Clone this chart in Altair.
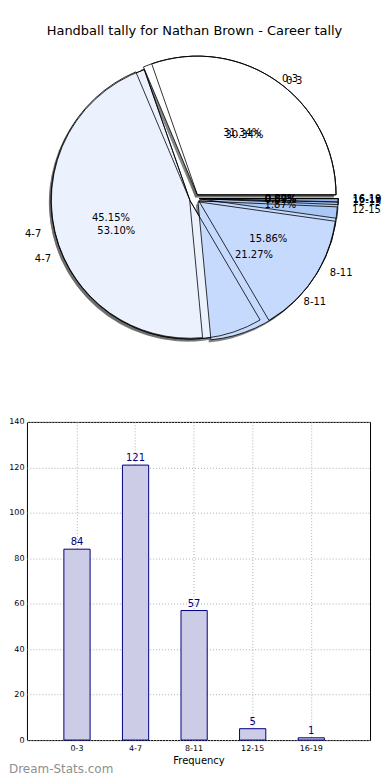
import math
import altair as alt
import pandas as pd

# ---------------- data ----------------
categories = ["0-3", "4-7", "8-11", "12-15", "16-19"]
career_counts = [84, 121, 57, 5, 1]
second_counts = [44, 77, 23, 1, 0]
slice_colors = ["#ffffff", "#ebf2fe", "#c6dafe", "#aac8f6", "#8fb3ea"]
title_text = "Handball tally for Nathan Brown - Career tally"
y_ticks = [0, 20, 40, 60, 80, 100, 120, 140]

# ---------------- layout ----------------
LEFT = 18                      # offset of view origin caused by y-axis labels
W1, H1 = 374 - LEFT, 400
CX, CY = 186 - LEFT, 190
RX, RY = 144, 131
R = 139
W2, H2 = 344, 319

xs = alt.Scale(domain=[-1, 1], range=[CX - RX, CX + RX])
ys = alt.Scale(domain=[-1, 1], range=[CY + RY, CY - RY])
ts = alt.Scale(domain=[0, 1], range=[2.5 * math.pi, 0.5 * math.pi])
cs = alt.Scale(domain=categories, range=slice_colors)


def pie_base(counts):
    df = pd.DataFrame({"cat": categories, "count": counts,
                       "idx": list(range(len(categories)))})
    return (
        alt.Chart(df)
        .transform_joinaggregate(total="sum(count)")
        .transform_window(cum="sum(count)", sort=[alt.SortField("idx")],
                          frame=[None, 0])
        .transform_calculate(f1="datum.cum / datum.total",
                             f0="(datum.cum - datum.count) / datum.total")
        .transform_calculate(phi="PI * (datum.f0 + datum.f1)")
        .transform_calculate(
            ux="cos(datum.phi)", uy="sin(datum.phi)",
            pct="format(datum.count / datum.total * 100, '.2f') + '%'")
        .transform_calculate(
            ex="0.035 * datum.ux", ey="0.035 * datum.uy",
            sx="0.035 * datum.ux - 0.015", sy="0.035 * datum.uy - 0.02",
            lx="1.1 * datum.ux", ly="1.1 * datum.uy",
            px="0.6 * datum.ux", py="0.6 * datum.uy")
    )


def arcs(base, kind):
    if kind == "shadow":
        return base.mark_arc(radius=R, fill="#666666", opacity=0.8).encode(
            theta=alt.Theta("f0:Q", scale=ts), theta2="f1:Q",
            x=alt.X("sx:Q", scale=xs, axis=None),
            y=alt.Y("sy:Q", scale=ys, axis=None))
    if kind == "fill":
        return base.mark_arc(radius=R, stroke="black", strokeWidth=0.8).encode(
            theta=alt.Theta("f0:Q", scale=ts), theta2="f1:Q",
            x=alt.X("ex:Q", scale=xs, axis=None),
            y=alt.Y("ey:Q", scale=ys, axis=None),
            color=alt.Color("cat:N", scale=cs, legend=None))
    return base.mark_arc(radius=R, fillOpacity=0, stroke="black",
                         strokeWidth=0.8).encode(
        theta=alt.Theta("f0:Q", scale=ts), theta2="f1:Q",
        x=alt.X("ex:Q", scale=xs, axis=None),
        y=alt.Y("ey:Q", scale=ys, axis=None))


def labels(base):
    right = base.transform_filter("datum.ux > 0").mark_text(
        align="left", baseline="middle", fontSize=10, color="black").encode(
        x=alt.X("lx:Q", scale=xs, axis=None),
        y=alt.Y("ly:Q", scale=ys, axis=None), text="cat:N")
    left = base.transform_filter("datum.ux <= 0").mark_text(
        align="right", baseline="middle", fontSize=10, color="black").encode(
        x=alt.X("lx:Q", scale=xs, axis=None),
        y=alt.Y("ly:Q", scale=ys, axis=None), text="cat:N")
    pct = base.mark_text(align="center", baseline="middle", fontSize=10,
                         color="black").encode(
        x=alt.X("px:Q", scale=xs, axis=None),
        y=alt.Y("py:Q", scale=ys, axis=None), text="pct:N")
    return [right, left, pct]


A = pie_base(career_counts)
B = pie_base(second_counts)

title = alt.Chart(pd.DataFrame({"t": [title_text]})).mark_text(
    fontSize=13, align="center", baseline="middle", color="black").encode(
    text="t:N", x=alt.value(CX), y=alt.value(22))

pie = alt.layer(
    arcs(B, "shadow"), arcs(A, "shadow"),
    arcs(B, "fill"), arcs(A, "fill"), arcs(B, "stroke"),
    *labels(A), *labels(B), title,
).properties(width=W1, height=H1)

# ---------------- bar chart ----------------
bar_df = pd.DataFrame({"cat": categories, "count": career_counts})

xenc = alt.X("cat:N", sort=categories,
             scale=alt.Scale(paddingInner=0.552, paddingOuter=0.705,
                             align=0.447),
             axis=alt.Axis(title="Frequency", labelAngle=0, labelFontSize=8,
                           labelColor="black", grid=True, gridDash=[1, 2],
                           gridColor="#b0b0b0", ticks=False, domain=False,
                           titleFontSize=10, titleFontWeight="normal",
                           titleColor="black", labelPadding=4, titlePadding=3))
yenc = alt.Y("count:Q", scale=alt.Scale(domain=[0, 140], nice=False),
             axis=alt.Axis(title="", values=y_ticks, labelFontSize=8,
                           labelColor="black", grid=True, gridDash=[1, 2],
                           gridColor="#b0b0b0", ticks=False, domain=False,
                           labelPadding=3))

bars = alt.Chart(bar_df).mark_bar(fill="#ccccE6", stroke="#000080",
                                  strokeWidth=1).encode(x=xenc, y=yenc)
vals = alt.Chart(bar_df).mark_text(baseline="bottom", dy=-2, fontSize=10,
                                   color="#000080").encode(
    x=alt.X("cat:N", sort=categories), y="count:Q", text="count:Q")
brand = alt.Chart(pd.DataFrame({"t": ["Dream-Stats.com"]})).mark_text(
    align="left", baseline="middle", fontSize=12,
    color="#8f8f8f").encode(text="t:N", x=alt.value(-LEFT),
                            y=alt.value(H2 + 29))

barchart = alt.layer(bars, vals, brand).properties(
    width=W2, height=H2,
    view=alt.ViewBackground(stroke="black", strokeWidth=1))

chart = alt.vconcat(pie, barchart, spacing=9).properties(
    padding={"left": 0, "top": 0, "right": 0, "bottom": 0}
).configure(font="DejaVu Sans").configure_view(strokeWidth=0)

chart.save("out.html", embed_options={"renderer": "svg", "actions": False})
